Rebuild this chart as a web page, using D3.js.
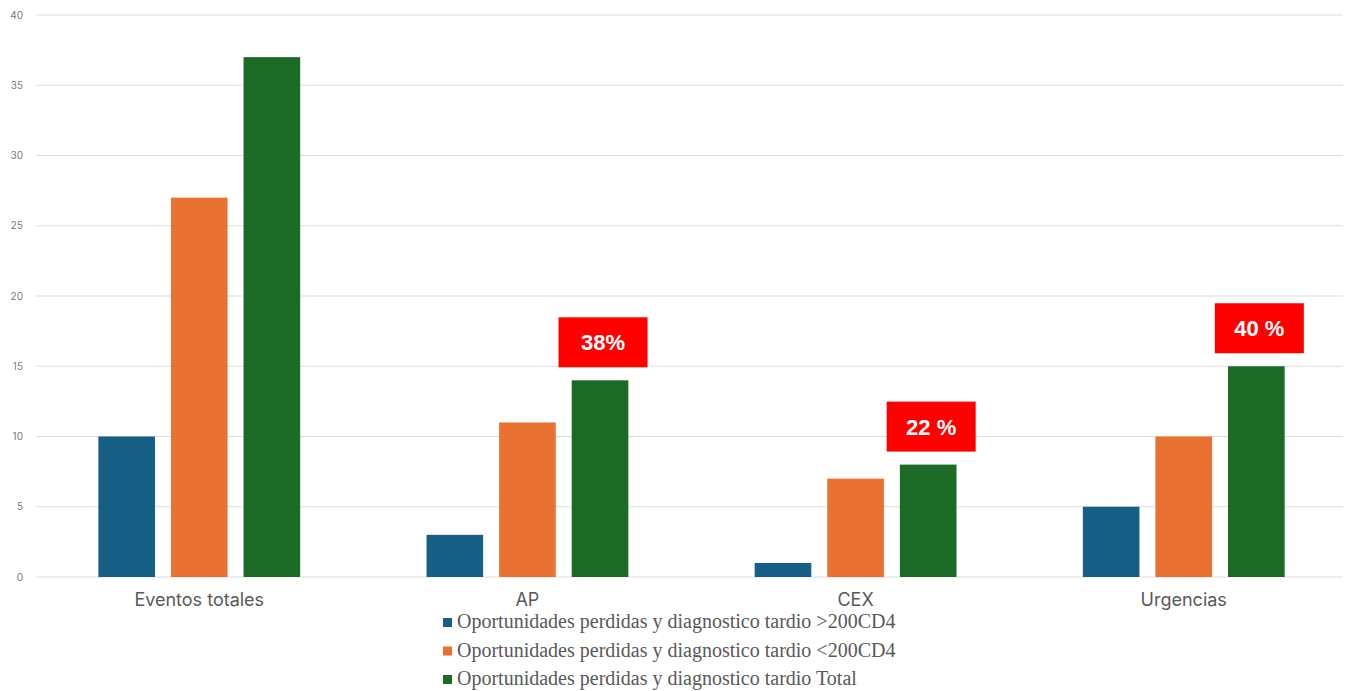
<!DOCTYPE html>
<html>
<head>
<meta charset="utf-8">
<script src="https://cdn.jsdelivr.net/npm/d3@7"></script>
<style>
  body { margin: 0; background: #fff; }
  svg { display: block; }
</style>
</head>
<body>
<div id="chart"></div>
<script>
// data
var categories = ["Eventos totales", "AP", "CEX", "Urgencias"];
var seriesNames = [
    "Oportunidades perdidas y diagnostico tardio >200CD4",
    "Oportunidades perdidas y diagnostico tardio <200CD4",
    "Oportunidades perdidas y diagnostico tardio Total"
];
var over200 = [10, 3, 1, 5];
var under200 = [27, 11, 7, 10];
var total = [37, 14, 8, 15];
var yTicks = [0, 5, 10, 15, 20, 25, 30, 35, 40];
// percentage callouts over the "Total" bar
var calloutCats = ["AP", "CEX", "Urgencias"];
var calloutLabels = ["38%", "22 %", "40 %"];

var colors = ["#176085", "#e97132", "#1b6b26"];
var series = [over200, under200, total];

var W = 1351, H = 691;
var margin = { top: 15, right: 4, bottom: 114, left: 36 };

var svg = d3.select("#chart").append("svg")
    .attr("width", W)
    .attr("height", H);

var x = d3.scaleBand()
    .domain(categories)
    .range([margin.left, W - margin.right])
    .paddingInner(0.385)
    .paddingOuter(0.19);

var xs = d3.scaleBand()
    .domain(d3.range(series.length))
    .range([0, x.bandwidth()])
    .paddingInner(0.22);

var y = d3.scaleLinear()
    .domain([0, 40])
    .range([H - margin.bottom, margin.top]);

// gridlines
svg.append("g")
    .selectAll("line")
    .data(yTicks)
    .enter().append("line")
    .attr("x1", margin.left)
    .attr("x2", W - 8)
    .attr("y1", d => y(d))
    .attr("y2", d => y(d))
    .attr("stroke", "#dedede")
    .attr("stroke-width", 1.2);

// y tick labels
svg.append("g")
    .selectAll("text")
    .data(yTicks)
    .enter().append("text")
    .attr("x", 23)
    .attr("y", d => y(d) + 3.5)
    .attr("text-anchor", "end")
    .attr("font-family", "Inter, 'Noto Sans', sans-serif")
    .attr("font-size", 10)
    .attr("fill", "#7a7a7a")
    .text(d => d);

// bars
series.forEach((vals, si) => {
    svg.append("g")
        .selectAll("rect")
        .data(vals)
        .enter().append("rect")
        .attr("x", (d, i) => x(categories[i]) + xs(si))
        .attr("y", d => y(d))
        .attr("width", xs.bandwidth())
        .attr("height", d => y(0) - y(d))
        .attr("fill", colors[si]);
});

// category labels
svg.append("g")
    .selectAll("text")
    .data(categories)
    .enter().append("text")
    .attr("x", d => x(d) + x.bandwidth() / 2)
    .attr("y", 606)
    .attr("text-anchor", "middle")
    .attr("font-family", "Inter, 'Noto Sans', sans-serif")
    .attr("font-size", 18)
    .attr("fill", "#595959")
    .text(d => d);

// red percentage boxes
var boxW = 89, boxH = 50, gap = 13;
calloutCats.forEach((c, k) => {
    var i = categories.indexOf(c);
    var cx = x(c) + xs(2) + xs.bandwidth() / 2 + 3;
    var bottom = y(total[i]) - gap;
    svg.append("rect")
        .attr("x", cx - boxW / 2)
        .attr("y", bottom - boxH)
        .attr("width", boxW)
        .attr("height", boxH)
        .attr("fill", "#ff0000");
    svg.append("text")
        .attr("x", cx)
        .attr("y", bottom - boxH / 2 + 8)
        .attr("text-anchor", "middle")
        .attr("font-family", "'Liberation Sans', Arial, sans-serif")
        .attr("font-weight", "bold")
        .attr("font-size", 22)
        .attr("fill", "#ffffff")
        .text(calloutLabels[k]);
});

// legend
var legend = svg.append("g").attr("transform", "translate(443, 0)");
seriesNames.forEach((name, i) => {
    var ly = 622 + i * 28.5;
    legend.append("rect")
        .attr("x", 0)
        .attr("y", ly - 4)
        .attr("width", 9)
        .attr("height", 9)
        .attr("fill", colors[i]);
    legend.append("text")
        .attr("x", 14)
        .attr("y", ly + 6)
        .attr("font-family", "'Liberation Serif', 'DejaVu Serif', serif")
        .attr("font-size", 20)
        .attr("fill", "#595959")
        .text(name);
});
</script>
</body>
</html>
